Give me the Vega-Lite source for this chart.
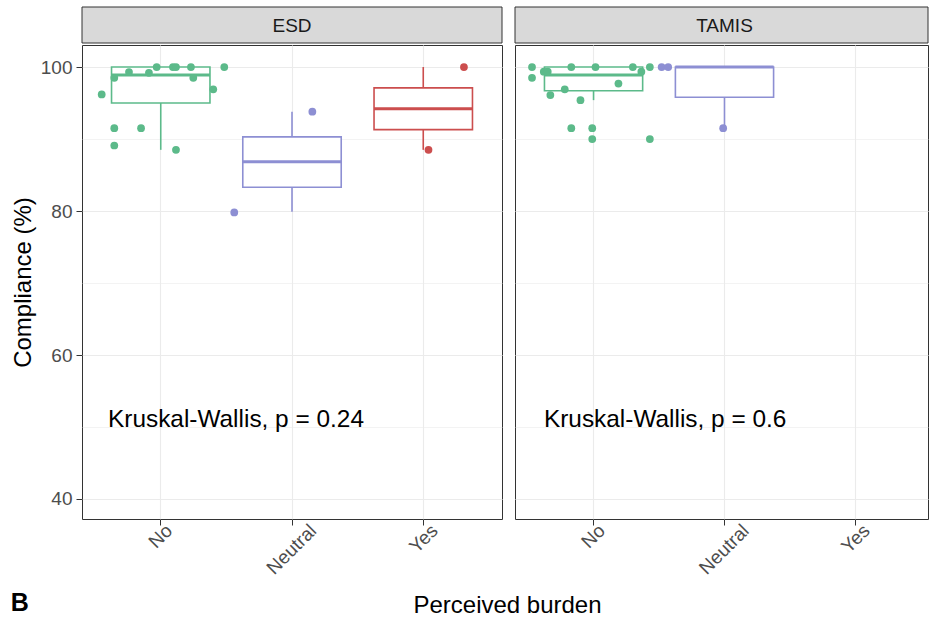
{
  "$schema": "https://vega.github.io/schema/vega-lite/v6.json",
  "padding": {"left": 10, "top": 6, "right": 0, "bottom": 0},
  "background": "white",
  "config": {
    "font": "Liberation Sans",
    "view": {"stroke": "#333333", "strokeWidth": 1}
  },
  "title": {"text": "B", "orient": "bottom", "anchor": "start", "frame": "bounds", "fontSize": 25, "fontWeight": "bold", "color": "black", "offset": -27},
  "datasets": {
    "pts": [
      {"panel": "ESD", "burden": "No", "value": 100, "jit": 0.484},
      {"panel": "ESD", "burden": "No", "value": 100, "jit": 0.093},
      {"panel": "ESD", "burden": "No", "value": 100, "jit": 0.116},
      {"panel": "ESD", "burden": "No", "value": 100, "jit": 0.23},
      {"panel": "ESD", "burden": "No", "value": 100, "jit": -0.031},
      {"panel": "ESD", "burden": "No", "value": 99.3, "jit": -0.242},
      {"panel": "ESD", "burden": "No", "value": 99.2, "jit": -0.09},
      {"panel": "ESD", "burden": "No", "value": 98.5, "jit": -0.354},
      {"panel": "ESD", "burden": "No", "value": 98.5, "jit": 0.248},
      {"panel": "ESD", "burden": "No", "value": 96.2, "jit": -0.45},
      {"panel": "ESD", "burden": "No", "value": 96.9, "jit": 0.40},
      {"panel": "ESD", "burden": "No", "value": 91.5, "jit": -0.354},
      {"panel": "ESD", "burden": "No", "value": 91.5, "jit": -0.15},
      {"panel": "ESD", "burden": "No", "value": 89.1, "jit": -0.354},
      {"panel": "ESD", "burden": "No", "value": 88.5, "jit": 0.116},
      {"panel": "ESD", "burden": "Neutral", "value": 93.8, "jit": 0.155},
      {"panel": "ESD", "burden": "Neutral", "value": 79.8, "jit": -0.44},
      {"panel": "ESD", "burden": "Yes", "value": 100, "jit": 0.31},
      {"panel": "ESD", "burden": "Yes", "value": 88.5, "jit": 0.04},
      {"panel": "TAMIS", "burden": "No", "value": 100, "jit": -0.47},
      {"panel": "TAMIS", "burden": "No", "value": 100, "jit": -0.17},
      {"panel": "TAMIS", "burden": "No", "value": 100, "jit": 0.015},
      {"panel": "TAMIS", "burden": "No", "value": 100, "jit": 0.30},
      {"panel": "TAMIS", "burden": "No", "value": 100, "jit": 0.43},
      {"panel": "TAMIS", "burden": "No", "value": 99.35, "jit": -0.38},
      {"panel": "TAMIS", "burden": "No", "value": 99.35, "jit": -0.35},
      {"panel": "TAMIS", "burden": "No", "value": 99.35, "jit": 0.365},
      {"panel": "TAMIS", "burden": "No", "value": 98.5, "jit": -0.47},
      {"panel": "TAMIS", "burden": "No", "value": 97.7, "jit": 0.19},
      {"panel": "TAMIS", "burden": "No", "value": 96.9, "jit": -0.22},
      {"panel": "TAMIS", "burden": "No", "value": 96.1, "jit": -0.33},
      {"panel": "TAMIS", "burden": "No", "value": 95.4, "jit": -0.10},
      {"panel": "TAMIS", "burden": "No", "value": 91.5, "jit": -0.17},
      {"panel": "TAMIS", "burden": "No", "value": 91.5, "jit": -0.01},
      {"panel": "TAMIS", "burden": "No", "value": 90.0, "jit": -0.01},
      {"panel": "TAMIS", "burden": "No", "value": 90.0, "jit": 0.43},
      {"panel": "TAMIS", "burden": "Neutral", "value": 100, "jit": -0.48},
      {"panel": "TAMIS", "burden": "Neutral", "value": 100, "jit": -0.43},
      {"panel": "TAMIS", "burden": "Neutral", "value": 91.5, "jit": -0.01}
    ],
    "boxes": [
      {"panel": "ESD", "burden": "No", "lower": 88.5, "q1": 95.0, "median": 98.9, "q3": 100, "upper": 100},
      {"panel": "ESD", "burden": "Neutral", "lower": 79.9, "q1": 83.3, "median": 86.85, "q3": 90.3, "upper": 93.8},
      {"panel": "ESD", "burden": "Yes", "lower": 88.5, "q1": 91.3, "median": 94.2, "q3": 97.1, "upper": 100},
      {"panel": "TAMIS", "burden": "No", "lower": 95.4, "q1": 96.7, "median": 98.9, "q3": 100, "upper": 100},
      {"panel": "TAMIS", "burden": "Neutral", "lower": 91.5, "q1": 95.8, "median": 100, "q3": 100, "upper": 100}
    ],
    "kw": [
      {"panel": "ESD", "burden": "No", "y": 50, "jit": -0.402, "label": "Kruskal-Wallis, p = 0.24"},
      {"panel": "TAMIS", "burden": "No", "y": 50, "jit": -0.379, "label": "Kruskal-Wallis, p = 0.6"}
    ]
  },
  "spacing": 0,
  "vconcat": [
    {
      "spacing": 13,
      "bounds": "flush",
      "hconcat": [
        {
          "width": 420, "height": 36,
          "view": {"stroke": null},
          "data": {"values": [{"panel": "ESD"}]},
          "layer": [
            {"mark": {"type": "rect", "fill": "#d9d9d9", "stroke": "#333333", "strokeWidth": 1}, "encoding": {}},
            {"mark": {"type": "text", "fontSize": 19, "color": "#1a1a1a", "baseline": "middle", "dy": 1}, "encoding": {"text": {"field": "panel"}}}
          ]
        },
        {
          "width": 413, "height": 36,
          "view": {"stroke": null},
          "data": {"values": [{"panel": "TAMIS"}]},
          "layer": [
            {"mark": {"type": "rect", "fill": "#d9d9d9", "stroke": "#333333", "strokeWidth": 1}, "encoding": {}},
            {"mark": {"type": "text", "fontSize": 19, "color": "#1a1a1a", "baseline": "middle", "dx": 3, "dy": 1}, "encoding": {"text": {"field": "panel"}}}
          ]
        }
      ]
    },
    {
      "spacing": 13,
      "bounds": "flush",
      "hconcat": [
        {
          "width": 420, "height": 474,
          "resolve": {"scale": {"xOffset": "independent"}},
          "encoding": {
            "x": {
              "field": "burden", "type": "nominal",
              "scale": {"domain": ["No", "Neutral", "Yes"], "paddingInner": 0, "paddingOuter": 0.1},
              "axis": {
                "title": "Perceived burden", "titleX": 425, "titleY": 93, "titleAlign": "center", "titleBaseline": "alphabetic",
                "titleFontSize": 24, "titleFontWeight": "normal", "titleColor": "black",
                "labelAngle": -45, "labelAlign": "right", "labelBaseline": "top", "labelFontSize": 19, "labelColor": "#4d4d4d", "labelPadding": -4,
                "labelOffset": {"condition": [{"test": "datum.value === 'Neutral'", "value": 15}, {"test": "datum.value === 'Yes'", "value": 5}], "value": 2},
                "tickColor": "#333333", "tickSize": 6, "domain": false,
                "grid": true, "gridColor": "#ebebeb", "gridWidth": 1.1
              }
            }
          },
          "layer": [
            {
              "data": {"name": "boxes"},
              "transform": [{"filter": "datum.panel === 'ESD'"}],
              "layer": [
                {
                  "mark": {"type": "rule", "strokeWidth": 1.6},
                  "encoding": {
                    "y": {
                      "field": "lower", "type": "quantitative",
                      "scale": {"domain": [37.22, 103.06], "nice": false, "zero": false},
                      "axis": {
                        "title": "Compliance (%)", "values": [40, 50, 60, 70, 80, 90, 100],
                        "labelExpr": "datum.value % 20 === 0 ? datum.label : ''",
                        "tickOpacity": {"condition": {"test": "datum.value % 20 === 0", "value": 1}, "value": 0},
                        "gridWidth": {"condition": {"test": "datum.value % 20 === 0", "value": 1.1}, "value": 0.6},
                        "gridColor": "#ebebeb", "domain": false, "tickColor": "#333333", "tickSize": 6,
                        "labelFontSize": 19, "labelColor": "#4d4d4d", "labelPadding": 4,
                        "titleFontSize": 24, "titleFontWeight": "normal", "titleColor": "black", "titlePadding": 5
                      }
                    },
                    "y2": {"field": "upper"},
                    "color": {"field": "burden", "type": "nominal", "scale": {"domain": ["No", "Neutral", "Yes"], "range": ["#5CBA8A", "#8D8FD3", "#CC4E4E"]}, "legend": null}
                  }
                },
                {
                  "mark": {"type": "bar", "fill": "white", "strokeWidth": 1.6, "width": {"band": 0.75}},
                  "encoding": {
                    "y": {"field": "q1", "type": "quantitative"},
                    "y2": {"field": "q3"},
                    "stroke": {"field": "burden", "type": "nominal", "scale": {"domain": ["No", "Neutral", "Yes"], "range": ["#5CBA8A", "#8D8FD3", "#CC4E4E"]}, "legend": null}
                  }
                },
                {
                  "mark": {"type": "bar", "fill": "white", "strokeWidth": 3, "width": {"band": 0.75}},
                  "encoding": {
                    "y": {"field": "median", "type": "quantitative"},
                    "y2": {"field": "median"},
                    "stroke": {"field": "burden", "type": "nominal", "scale": {"domain": ["No", "Neutral", "Yes"], "range": ["#5CBA8A", "#8D8FD3", "#CC4E4E"]}, "legend": null}
                  }
                }
              ]
            },
            {
              "data": {"name": "pts"},
              "transform": [{"filter": "datum.panel === 'ESD'"}],
              "mark": {"type": "circle", "size": 60, "opacity": 1},
              "encoding": {
                "y": {"field": "value", "type": "quantitative"},
                "xOffset": {"field": "jit", "type": "quantitative", "scale": {"domain": [-0.5, 0.5]}},
                "color": {"field": "burden", "type": "nominal", "scale": {"domain": ["No", "Neutral", "Yes"], "range": ["#5CBA8A", "#8D8FD3", "#CC4E4E"]}, "legend": null}
              }
            },
            {
              "data": {"name": "kw"},
              "transform": [{"filter": "datum.panel === 'ESD'"}],
              "mark": {"type": "text", "align": "left", "baseline": "alphabetic", "fontSize": 24.4, "color": "black"},
              "encoding": {
                "y": {"field": "y", "type": "quantitative"},
                "xOffset": {"field": "jit", "type": "quantitative", "scale": {"domain": [-0.5, 0.5]}},
                "text": {"field": "label"}
              }
            }
          ]
        },
        {
          "width": 413, "height": 474,
          "resolve": {"scale": {"xOffset": "independent"}},
          "encoding": {
            "x": {
              "field": "burden", "type": "nominal",
              "scale": {"domain": ["No", "Neutral", "Yes"], "paddingInner": 0, "paddingOuter": 0.07714, "align": 0.648},
              "axis": {
                "title": null,
                "labelAngle": -45, "labelAlign": "right", "labelBaseline": "top", "labelFontSize": 19, "labelColor": "#4d4d4d", "labelPadding": -4,
                "labelOffset": {"condition": [{"test": "datum.value === 'Neutral'", "value": 15}, {"test": "datum.value === 'Yes'", "value": 5}], "value": 2},
                "tickColor": "#333333", "tickSize": 6, "domain": false,
                "grid": true, "gridColor": "#ebebeb", "gridWidth": 1.1
              }
            }
          },
          "layer": [
            {
              "data": {"name": "boxes"},
              "transform": [{"filter": "datum.panel === 'TAMIS'"}],
              "layer": [
                {
                  "mark": {"type": "rule", "strokeWidth": 1.6},
                  "encoding": {
                    "y": {
                      "field": "lower", "type": "quantitative",
                      "scale": {"domain": [37.22, 103.06], "nice": false, "zero": false},
                      "axis": {
                        "title": null, "values": [40, 50, 60, 70, 80, 90, 100],
                        "labels": false, "ticks": false, "domain": false,
                        "gridWidth": {"condition": {"test": "datum.value % 20 === 0", "value": 1.1}, "value": 0.6},
                        "gridColor": "#ebebeb"
                      }
                    },
                    "y2": {"field": "upper"},
                    "color": {"field": "burden", "type": "nominal", "scale": {"domain": ["No", "Neutral", "Yes"], "range": ["#5CBA8A", "#8D8FD3", "#CC4E4E"]}, "legend": null}
                  }
                },
                {
                  "mark": {"type": "bar", "fill": "white", "strokeWidth": 1.6, "width": {"band": 0.75}},
                  "encoding": {
                    "y": {"field": "q1", "type": "quantitative"},
                    "y2": {"field": "q3"},
                    "stroke": {"field": "burden", "type": "nominal", "scale": {"domain": ["No", "Neutral", "Yes"], "range": ["#5CBA8A", "#8D8FD3", "#CC4E4E"]}, "legend": null}
                  }
                },
                {
                  "mark": {"type": "bar", "fill": "white", "strokeWidth": 3, "width": {"band": 0.75}},
                  "encoding": {
                    "y": {"field": "median", "type": "quantitative"},
                    "y2": {"field": "median"},
                    "stroke": {"field": "burden", "type": "nominal", "scale": {"domain": ["No", "Neutral", "Yes"], "range": ["#5CBA8A", "#8D8FD3", "#CC4E4E"]}, "legend": null}
                  }
                }
              ]
            },
            {
              "data": {"name": "pts"},
              "transform": [{"filter": "datum.panel === 'TAMIS'"}],
              "mark": {"type": "circle", "size": 60, "opacity": 1},
              "encoding": {
                "y": {"field": "value", "type": "quantitative"},
                "xOffset": {"field": "jit", "type": "quantitative", "scale": {"domain": [-0.5, 0.5]}},
                "color": {"field": "burden", "type": "nominal", "scale": {"domain": ["No", "Neutral", "Yes"], "range": ["#5CBA8A", "#8D8FD3", "#CC4E4E"]}, "legend": null}
              }
            },
            {
              "data": {"name": "kw"},
              "transform": [{"filter": "datum.panel === 'TAMIS'"}],
              "mark": {"type": "text", "align": "left", "baseline": "alphabetic", "fontSize": 24.4, "color": "black"},
              "encoding": {
                "y": {"field": "y", "type": "quantitative"},
                "xOffset": {"field": "jit", "type": "quantitative", "scale": {"domain": [-0.5, 0.5]}},
                "text": {"field": "label"}
              }
            }
          ]
        }
      ]
    }
  ]
}
